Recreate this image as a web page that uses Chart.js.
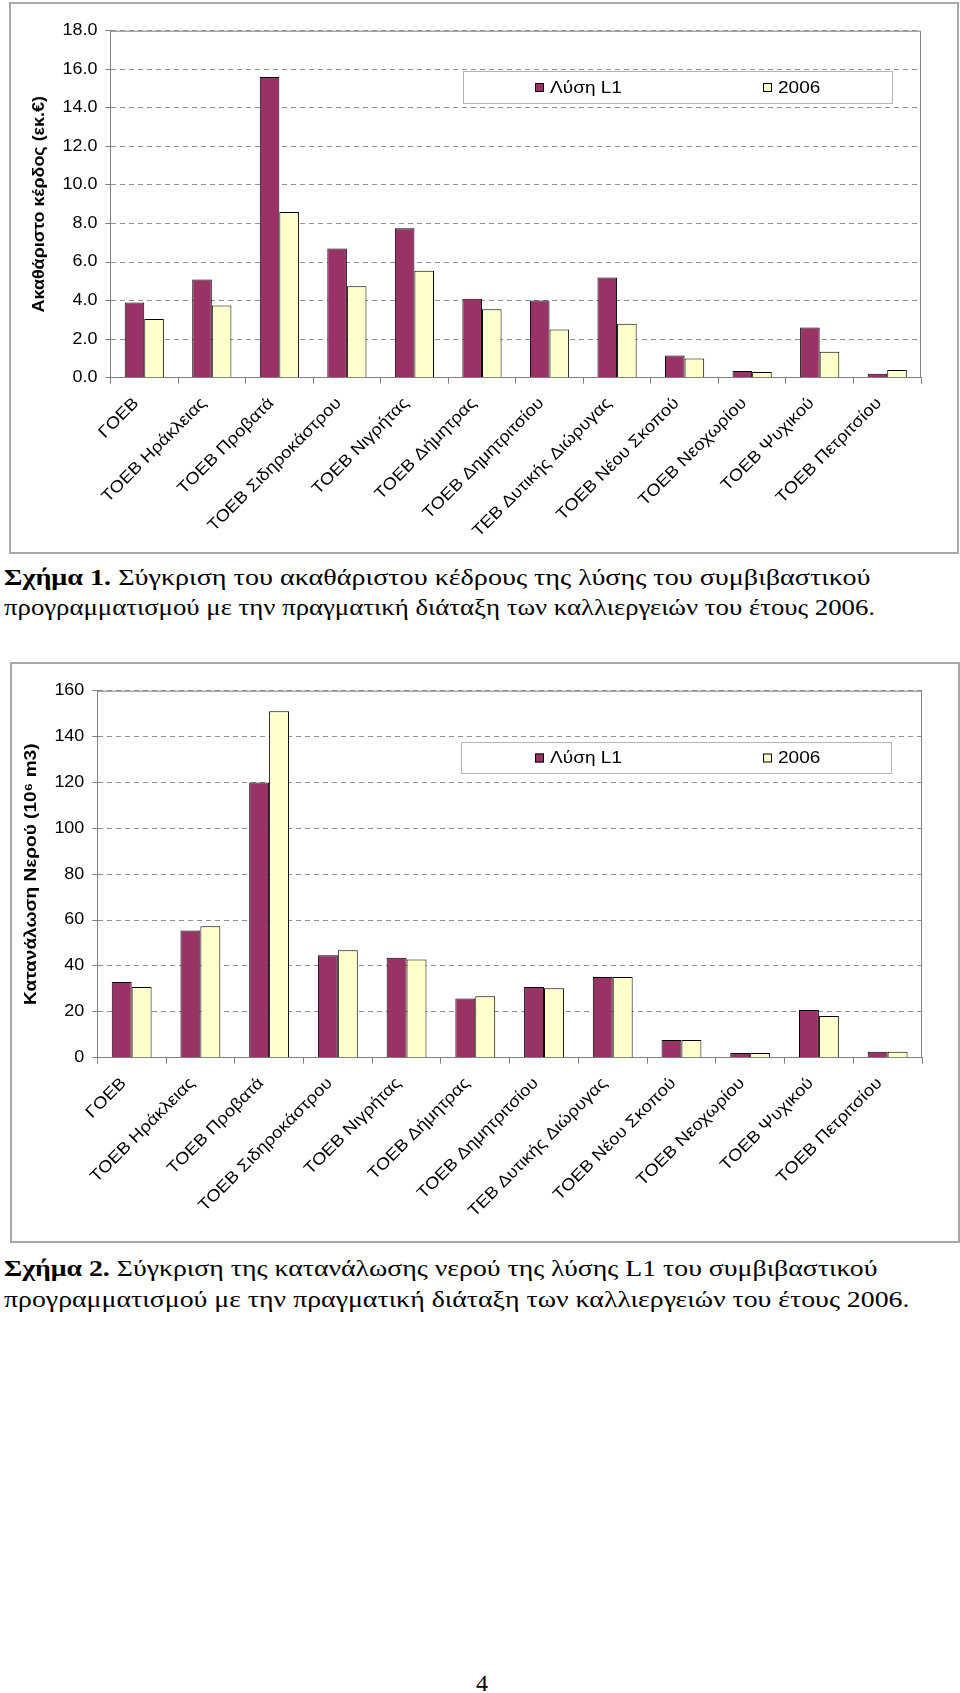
<!DOCTYPE html>
<html>
<head>
<meta charset="utf-8">
<script src="https://cdn.jsdelivr.net/npm/chart.js@4.4.0/dist/chart.umd.min.js"></script>
<style>
  body { margin: 0; background: #fff; width: 960px; height: 1693px; overflow: hidden; position: relative; }
  .box { position: absolute; border: 2px solid #a8a8a8; }
  .box canvas { display: block; }
  .cap { position: absolute; left: 4px; font-family: 'Liberation Serif', 'Times New Roman', serif; font-size: 23px; line-height: 27px; color: #000; white-space: nowrap; transform-origin: 0 0; }
  .pg { position: absolute; left: 476px; top: 1670px; font-family: 'Liberation Serif', serif; font-size: 24px; line-height: 27px; }
</style>
</head>
<body>

<div class="box" style="left:9px;top:2px;"><canvas id="profit" width="946" height="548"></canvas></div>
<div class="cap" style="top:564px;transform:scaleX(1.223)"><b>Σχήμα 1.</b> Σύγκριση του ακαθάριστου κέδρους της λύσης του συμβιβαστικού</div>
<div class="cap" style="top:594px;transform:scaleX(1.164)">προγραμματισμού με την πραγματική διάταξη των καλλιεργειών του έτους 2006.</div>

<div class="box" style="left:10px;top:662px;"><canvas id="water" width="946" height="577"></canvas></div>
<div class="cap" style="top:1255px;transform:scaleX(1.208)"><b>Σχήμα 2.</b> Σύγκριση της κατανάλωσης νερού της λύσης L1 του συμβιβαστικού</div>
<div class="cap" style="top:1286px;transform:scaleX(1.21)">προγραμματισμού με την πραγματική διάταξη των καλλιεργειών του έτους 2006.</div>

<div class="pg">4</div>

<script>
const stations = ['ΓΟΕΒ', 'ΤΟΕΒ Ηράκλειας', 'ΤΟΕΒ Προβατά', 'ΤΟΕΒ Σιδηροκάστρου', 'ΤΟΕΒ Νιγρήτας',
  'ΤΟΕΒ Δήμητρας', 'ΤΟΕΒ Δημητριτσίου', 'ΤΕΒ Δυτικής Διώρυγας', 'ΤΟΕΒ Νέου Σκοπού',
  'ΤΟΕΒ Νεοχωρίου', 'ΤΟΕΒ Ψυχικού', 'ΤΟΕΒ Πετριτσίου']
const seriesNames = ['Λύση L1', '2006']

// ακαθάριστο κέρδος (εκ.€)
const profitL1 = [3.9, 5.1, 15.6, 6.7, 7.75, 4.1, 4.0, 5.2, 1.15, 0.35, 2.6, 0.2]
const profit2006 = [3.05, 3.75, 8.6, 4.75, 5.55, 3.55, 2.5, 2.8, 1.0, 0.3, 1.35, 0.4]
const profitMax = 18
const profitStep = 2

// κατανάλωση νερού (10^6 m3)
const waterL1 = [33, 55.5, 120, 44.7, 43.6, 25.8, 30.8, 35.2, 7.7, 2.0, 20.8, 2.6]
const water2006 = [30.8, 57.3, 151, 46.8, 42.8, 26.8, 30.3, 35.2, 7.7, 2.0, 18.2, 2.6]
const waterMax = 160
const waterStep = 20

const FONT = "'Liberation Sans', 'DejaVu Sans', Arial, sans-serif"
const GREY = '#808080'

// the original's lettering is a bit wider than Arial, stretch glyphs along the text
const widenText = (canvas, sx) => {
  const ctx = canvas.getContext('2d')
  const fill = ctx.fillText.bind(ctx)
  ctx.fillText = (text, x, y, maxWidth) => {
    ctx.save()
    ctx.translate(x, y)
    ctx.scale(sx, 1)
    if (maxWidth === undefined) fill(text, 0, 0)
    else fill(text, 0, 0, maxWidth / sx)
    ctx.restore()
  }
}

// legend in a framed box + grey frame on top/right of plot area
const framePlugin = {
  id: 'frame',
  afterDraw(chart, args, opts) {
    const ctx = chart.ctx
    const a = chart.chartArea
    ctx.save()
    ctx.strokeStyle = GREY
    ctx.lineWidth = 1
    ctx.beginPath()
    ctx.moveTo(a.left, a.top + 0.5)
    ctx.lineTo(a.right - 0.5, a.top + 0.5)
    ctx.lineTo(a.right - 0.5, a.bottom)
    ctx.stroke()

    const lg = opts.legend
    ctx.fillStyle = '#fff'
    ctx.fillRect(lg.x, lg.y, lg.w, lg.h)
    ctx.strokeStyle = '#b4b4b4'
    ctx.strokeRect(lg.x + 0.5, lg.y + 0.5, lg.w, lg.h)
    const cy = lg.y + lg.h / 2
    ctx.font = '17px ' + FONT
    ctx.textBaseline = 'middle'
    chart.data.datasets.forEach((ds, i) => {
      const mx = lg.markers[i]
      ctx.fillStyle = ds.backgroundColor
      ctx.fillRect(mx, cy - 4, 9, 9)
      ctx.strokeStyle = '#000'
      ctx.strokeRect(mx + 0.5, cy - 3.5, 8, 8)
      ctx.fillStyle = '#000'
      ctx.fillText(ds.label, mx + 15, cy + 1)
    })
    ctx.restore()
  }
}

function makeChart(id, l1, y2006, max, step, decimals, title, titleSize, yWidth, xHeight, padTop, titlePad, legend) {
  const canvas = document.getElementById(id)
  widenText(canvas, 1.12)
  return new Chart(canvas, {
    type: 'bar',
    data: {
      labels: stations,
      datasets: [
        { label: seriesNames[0], data: l1, backgroundColor: '#993366', borderColor: '#000', borderWidth: 1 },
        { label: seriesNames[1], data: y2006, backgroundColor: '#ffffcc', borderColor: '#000', borderWidth: 1 }
      ]
    },
    options: {
      responsive: false,
      animation: false,
      layout: { padding: { left: 0, top: padTop, right: 36, bottom: 0 } },
      datasets: { bar: { categoryPercentage: 0.58, barPercentage: 1.0 } },
      plugins: {
        legend: { display: false },
        tooltip: { enabled: false },
        frame: { legend: legend }
      },
      scales: {
        x: {
          afterFit: (s) => { s.height = xHeight },
          grid: { display: true, drawOnChartArea: false, offset: true, tickLength: 6, color: GREY },
          border: { color: GREY },
          ticks: {
            autoSkip: false, minRotation: 45, maxRotation: 45, padding: 10, labelOffset: -8,
            color: '#000', font: { family: FONT, size: 16.5 }
          }
        },
        y: {
          min: 0, max: max,
          afterFit: (s) => { s.width = yWidth },
          grid: { color: '#909090', tickLength: 5, tickBorderDash: [], tickColor: GREY },
          border: { color: GREY, dash: [5, 4] },
          ticks: {
            stepSize: step, padding: 8, color: '#000', font: { family: FONT, size: 16 },
            callback: (v) => v.toFixed(decimals)
          },
          title: {
            display: true, text: title, color: '#000',
            font: { family: FONT, size: titleSize, weight: 'bold' },
            padding: { top: titlePad, bottom: 0 }
          }
        }
      }
    },
    plugins: [framePlugin]
  })
}

makeChart('profit', profitL1, profit2006, profitMax, profitStep, 1,
  'Ακαθάριστο κέρδος (εκ.€)', 16, 99.5, 174.3, 26.7, 19,
  { x: 452, y: 67, w: 429, h: 32, markers: [524, 752] })

makeChart('water', waterL1, water2006, waterMax, waterStep, 0,
  'Κατανάλωση Νερού (10⁶ m3)', 17, 85.3, 183.3, 26.7, 9,
  { x: 449, y: 78, w: 430, h: 31, markers: [523, 751] })
</script>
</body>
</html>
